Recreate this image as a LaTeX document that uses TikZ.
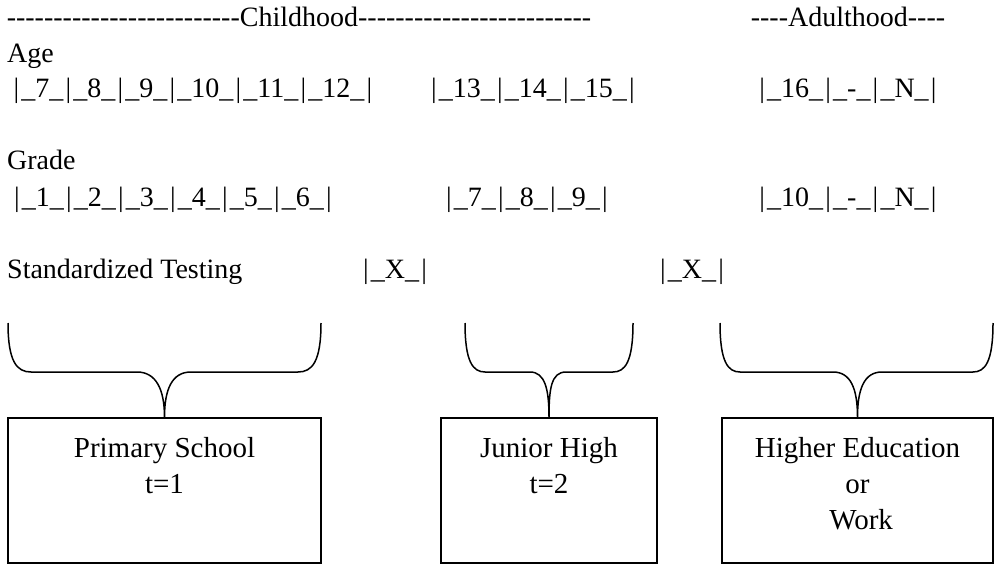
\documentclass[tikz,border=0pt]{standalone}
\usepackage{fontspec}
\setmainfont{Liberation Serif}[Ligatures=TeXOff]
\usetikzlibrary{positioning}
\newcommand{\vb}{\kern2.2pt|\kern2.2pt}
\tikzset{
  rowtext/.style={anchor=base, inner sep=0pt},
  lbltext/.style={anchor=base west, inner sep=0pt},
  stagebox/.style={draw, line width=1.5pt, inner sep=0pt},
  boxtext/.style={anchor=north, align=center, inner sep=0pt, font=\fontsize{29}{36}\selectfont},
  bracket/.style={line width=1.5pt},
}
\begin{document}
\begin{tikzpicture}[x=1pt, y=-1pt, font=\fontsize{28}{36}\selectfont]
\useasboundingbox (0,0) rectangle (995,564);
% headers
\node[rowtext] (child) at (299,27) {-------------------------Childhood-------------------------};
\node[rowtext] (adult) at (848,27) {----Adulthood----};
% age row
\node[lbltext] (agelbl) at (7,63) {Age};
\node[rowtext] (age1) at (193,98) {\vb\_7\_\vb\_8\_\vb\_9\_\vb\_10\_\vb\_11\_\vb\_12\_\vb};
\node[rowtext] (age2) at (533,98) {\vb\_13\_\vb\_14\_\vb\_15\_\vb};
\node[rowtext] (age3) at (848,98) {\vb\_16\_\vb\_-\_\vb\_N\_\vb};
% grade row
\node[lbltext] (gradelbl) at (7,170) {Grade};
\node[rowtext] (grade1) at (173,207) {\vb\_1\_\vb\_2\_\vb\_3\_\vb\_4\_\vb\_5\_\vb\_6\_\vb};
\node[rowtext] (grade2) at (527,207) {\vb\_7\_\vb\_8\_\vb\_9\_\vb};
\node[rowtext] (grade3) at (848,207) {\vb\_10\_\vb\_-\_\vb\_N\_\vb};
% testing row
\node[lbltext] (testlbl) at (7,278) {Standardized Testing};
\node[rowtext] (test1) at (395,278) {\vb\_X\_\vb};
\node[rowtext] (test2) at (692,278) {\vb\_X\_\vb};
% stages
\node[stagebox, minimum width=313, minimum height=145] (prim) at (164.5,490.5) {};
\node[stagebox, minimum width=216, minimum height=145] (junior) at (549,490.5) {};
\node[stagebox, minimum width=271, minimum height=145] (higher) at (857.5,490.5) {};
\node[boxtext, below=20pt of prim.north] (primtxt) {Primary School\\t=1};
\node[boxtext, below=20pt of junior.north] (juniortxt) {Junior High\\t=2};
\node[boxtext, below=20pt of higher.north] (highertxt) {Higher Education\\or\\\ Work};
% braces
\draw[bracket] (8,323) .. controls +(0,39) and +(-14,0) .. (31,372) -- (137,372) .. controls +(19,0) and +(0,-28) .. (prim.north)
  .. controls +(0,-28) and +(-19,0) .. (191,372) -- (298,372) .. controls +(14,0) and +(0,39) .. (321,323);
\draw[bracket] (465,323) .. controls +(0,39) and +(-12,0) .. (485,372) -- (530,372) .. controls +(15,0) and +(0,-28) .. (junior.north)
  .. controls +(0,-28) and +(-15,0) .. (566,372) -- (613,372) .. controls +(12,0) and +(0,39) .. (633,323);
\draw[bracket] (720,323) .. controls +(0,39) and +(-12,0) .. (740,372) -- (833,372) .. controls +(18,0) and +(0,-28) .. (higher.north)
  .. controls +(0,-28) and +(-18,0) .. (882,372) -- (973,372) .. controls +(12,0) and +(0,39) .. (993,323);
\end{tikzpicture}
\end{document}
